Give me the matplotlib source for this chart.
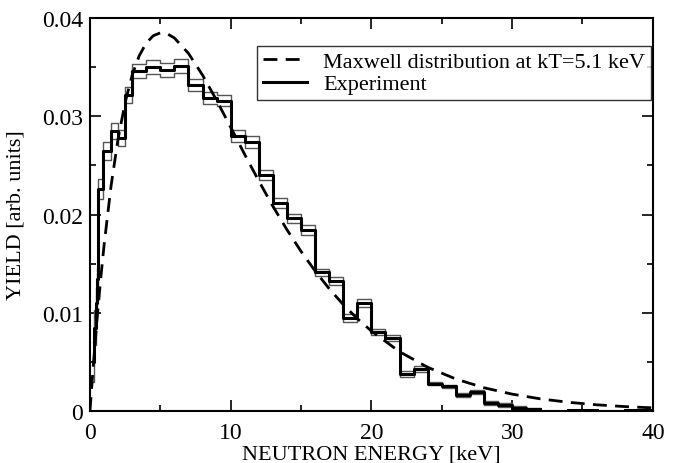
import numpy as np
import matplotlib
matplotlib.use('Agg')
from matplotlib import pyplot as plt
from matplotlib.ticker import MultipleLocator, FixedFormatter, FixedLocator

# experiment: bin edges (keV), yield per bin and its error
bin_edges = [0.2, 0.3, 0.4, 0.5, 0.6, 0.95, 1.5, 2.0, 2.5, 3.0,
             4, 5, 6, 7, 8, 9, 10, 11, 12, 13, 14, 15, 16, 17, 18, 19, 20,
             21, 22, 23, 24, 25, 26, 27, 28, 29, 30, 31, 32]
yield_exp = [0.0050, 0.0085, 0.0110, 0.0134, 0.0226, 0.0265, 0.0285, 0.0278, 0.0322,
             0.0346, 0.0350, 0.0347, 0.0351, 0.0332, 0.0319, 0.0316, 0.0280, 0.0274,
             0.0240, 0.0212, 0.0196, 0.0184, 0.0141, 0.0132, 0.0095, 0.0110, 0.0080,
             0.0074, 0.0038, 0.0043, 0.0028, 0.0025, 0.0016, 0.0019, 0.0008, 0.0006,
             0.0003, 0.0002]
yield_err = [0.0020, 0.0018, 0.0015, 0.0012, 0.0010, 0.0009, 0.0008, 0.0008, 0.0008,
             0.0007, 0.0007, 0.0007, 0.0007, 0.0006, 0.0006, 0.0006, 0.0006, 0.0006,
             0.0005, 0.0005, 0.0005, 0.0005, 0.0004, 0.0004, 0.0004, 0.0004, 0.0003,
             0.0003, 0.0003, 0.0003, 0.0002, 0.0002, 0.0002, 0.0002, 0.0002, 0.0002,
             0.0002, 0.0001]

# small leftovers in the far tail
tail_edges = [[34, 35, 36], [38, 39, 40]]
tail_vals = [[0.00012, 0.00010], [0.00010, 0.00012]]

# Maxwell distribution kT = 5.1 keV
max_E = [0, 0.25, 0.5, 0.75, 1, 1.5, 2, 2.5, 3, 3.5, 4, 4.5, 5, 5.5, 6, 7, 8, 9,
         10, 11, 12, 13, 14, 15, 16, 17, 18, 19, 20, 22, 24, 26, 28, 30, 32, 34,
         36, 38, 40]
max_Y = [0, 0.00488, 0.0093, 0.01328, 0.01686, 0.02293, 0.02773, 0.03141, 0.03419,
         0.03616, 0.03746, 0.0382, 0.03849, 0.03839, 0.03797, 0.0364, 0.03419,
         0.03162, 0.02888, 0.0261, 0.02341, 0.02084, 0.01845, 0.01625, 0.01425,
         0.01245, 0.01083, 0.0094, 0.00814, 0.00604, 0.00445, 0.00326, 0.00237,
         0.00172, 0.00124, 0.00089, 0.000635, 0.000453, 0.000323]

y_ticks = [0, 0.01, 0.02, 0.03, 0.04]
y_ticklabels = ['0', '0.01', '0.02', '0.03', '0.04']

plt.rcParams['font.family'] = ['Liberation Serif', 'DejaVu Serif']
plt.rcParams['font.size'] = 16

fig = plt.figure(figsize=(6.79, 4.64), dpi=100)
ax = fig.add_axes([0.1325, 0.112, 0.829, 0.847])

y = np.array(yield_exp)
e = np.array(yield_err)
ys = np.append(y, y[-1])
ax.step(bin_edges, np.append(y + e, y[-1] + e[-1]), where='post', color='#555555', lw=1)
ax.step(bin_edges, np.append(y - e, y[-1] - e[-1]), where='post', color='#555555', lw=1)
ax.step(bin_edges, ys, where='post', color='black', lw=2.2, label='Experiment')
for te, tv in zip(tail_edges, tail_vals):
    ax.step(te, tv + [tv[-1]], where='post', color='black', lw=2.2)

ax.plot(max_E, max_Y, color='black', lw=2, linestyle=(0, (5, 3)),
        label='Maxwell distribution at kT=5.1 keV')

ax.set_xlim(0, 40)
ax.set_ylim(0, 0.04)
ax.xaxis.set_major_locator(MultipleLocator(10))
ax.xaxis.set_minor_locator(MultipleLocator(5))
ax.yaxis.set_major_locator(FixedLocator(y_ticks))
ax.yaxis.set_major_formatter(FixedFormatter(y_ticklabels))
ax.yaxis.set_minor_locator(MultipleLocator(0.005))
ax.tick_params(which='both', direction='in', top=True, right=True, width=1.2)
ax.tick_params(which='major', length=8, labelsize=17, pad=5)
ax.tick_params(axis='x', which='major', pad=8)
ax.tick_params(which='minor', length=4.5)
for s in ax.spines.values():
    s.set_linewidth(1.5)

ax.set_xlabel('NEUTRON ENERGY [keV]', fontsize=16, labelpad=1)
ax.set_ylabel('YIELD [arb. units]', fontsize=16, labelpad=12)

h, l = ax.get_legend_handles_labels()
leg = ax.legend(h[::-1], l[::-1], loc='upper right', bbox_to_anchor=(0.996, 0.93),
                fancybox=False, edgecolor='black', fontsize=16, handlelength=2.0,
                borderaxespad=0, labelspacing=0.1, borderpad=0.25, handletextpad=0.7)
leg.get_frame().set_linewidth(1.0)

fig.savefig('out.png', dpi=100)
